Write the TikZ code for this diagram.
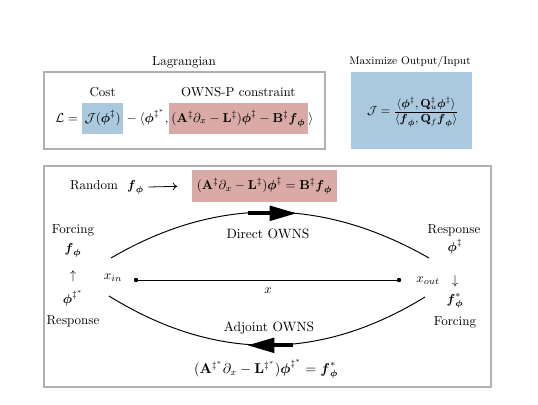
\documentclass[tikz,border=0pt]{standalone}
\usepackage{amsmath,amssymb}
\usetikzlibrary{arrows.meta,positioning}
\definecolor{hlblue}{RGB}{170,200,222}
\definecolor{hlpink}{RGB}{217,170,166}
\definecolor{framegray}{RGB}{175,175,182}
\newcommand{\bphi}{\boldsymbol{\phi}}
\newcommand{\bff}{\boldsymbol{f}_{\boldsymbol{\phi}}}
\begin{document}
\begin{tikzpicture}[x=0.77pt,y=-0.77pt,
  frame/.style={draw=framegray,line width=1.1pt},
  hl/.style={inner xsep=2pt,text height=9pt,text depth=3.5pt,inner ysep=6pt},
  plain/.style={inner sep=0pt},
  lbl/.style={inner sep=1pt},
  dot/.style={circle,fill,inner sep=0pt,minimum size=3.4pt},
  bigarrow/.style={line width=3.2pt,-{Triangle[length=21pt,width=11pt]}},
  owns/.style={font=\fontsize{10.4}{12.5}\selectfont},
  arc/.style={line width=0.75pt}]
\useasboundingbox (0,0) rectangle (538,404);

% ---------- Lagrangian ----------
\node[lbl] (lagt) at (184,62) {Lagrangian};
\draw[frame] (44,72) rectangle (325,149);
\node[plain,anchor=base west] (lhs) at (55,122) {$\mathcal{L}={}$};
\node[hl,fill=hlblue,anchor=base west] (jn) at (lhs.base east) {$\mathcal{J}(\bphi^\ddagger)$};
\node[plain,anchor=base west] (mid) at (jn.base east) {${}-\langle\bphi^{\ddagger^*},$};
\node[hl,fill=hlpink,anchor=base west] (cn) at (mid.base east) {$(\mathbf{A}^\ddagger\partial_x-\mathbf{L}^\ddagger)\bphi^\ddagger-\mathbf{B}^\ddagger\bff$};
\node[plain,anchor=base west] (cl) at (cn.base east) {$\rangle$};
\node[lbl,anchor=base] (cost) at ([yshift=4.5pt]jn.north) {Cost};
\node[lbl,anchor=base] (owp) at ([yshift=4.5pt]cn.north) {OWNS-P constraint};

% ---------- Objective ----------
\node[lbl,font=\fontsize{8.5}{10}\selectfont] (maxt) at (410,62) {Maximize Output/Input};
\fill[hlblue] (351,72) rectangle (472,149);
\node[plain,font=\fontsize{9}{11}\selectfont] (jdef) at (413,112) {$\mathcal{J}=\dfrac{\langle\bphi^\ddagger,\mathbf{Q}_u^\ddagger\bphi^\ddagger\rangle}{\langle\bff,\mathbf{Q}_f\bff\rangle}$};

% ---------- Bottom panel ----------
\draw[frame] (44,166) rectangle (491,387);
\node (rand) at (107,187) {Random\hspace{7pt}$\bff$};
\node[fill=hlpink,minimum width=112pt,minimum height=24.5pt] (eqtop) at (264.5,186) {$(\mathbf{A}^\ddagger\partial_x-\mathbf{L}^\ddagger)\bphi^\ddagger=\mathbf{B}^\ddagger\bff$};
\draw[-{To[length=3.5pt,width=6pt]},line width=0.6pt,shorten >=11pt] (rand.east) -- (eqtop.west);

% axis
\node[dot] (dl) at (136,280) {};
\node[dot] (dr) at (399,280) {};
\draw[line width=0.75pt] (dl) -- (dr);
\node (xin) at (113,278) {$x_{in}$};
\node (xout) at (428,281) {$x_{out}$};
\node (xl) at (268,291) {$x$};

% arcs
\coordinate (ul) at (111,258);
\coordinate (ur) at (429,258);
\coordinate (ll) at (109,296);
\coordinate (lr) at (425,297);
\draw[arc] (ul) .. controls (215.7,196.7) and (321.7,196.7) .. (ur);
\draw[arc] (ll) .. controls (214.3,361.3) and (319.7,361.7) .. (lr);
\coordinate (a1s) at (248,213.3);
\coordinate (a1e) at (297,213.3);
\coordinate (a2s) at (293,345.3);
\coordinate (a2e) at (247,345.3);
\draw[bigarrow] (a1s) -- (a1e);
\draw[bigarrow] (a2s) -- (a2e);
\node[owns] (dir) at (268,234) {Direct OWNS};
\node[owns] (adj) at (269,328) {Adjoint OWNS};
\node[font=\fontsize{10.6}{12.5}\selectfont] (eqbot) at (266,369) {$(\mathbf{A}^{\ddagger^*}\partial_x-\mathbf{L}^{\ddagger^*})\bphi^{\ddagger^*}=\boldsymbol{f}^*_{\boldsymbol{\phi}}$};

% left column
\node (lf) at (73,230) {Forcing};
\node (lfp) at (73,250) {$\bff$};
\node (lup) at (73,276) {$\uparrow$};
\node (lph) at (73,298) {$\bphi^{\ddagger^*}$};
\node (lr1) at (73,321) {Response};

% right column
\node (rr) at (454,230) {Response};
\node (rph) at (455,247) {$\bphi^\ddagger$};
\node (rdn) at (455,281) {$\downarrow$};
\node (rf) at (455,301) {$\boldsymbol{f}^*_{\boldsymbol{\phi}}$};
\node (rfo) at (455,322) {Forcing};
\end{tikzpicture}
\end{document}
